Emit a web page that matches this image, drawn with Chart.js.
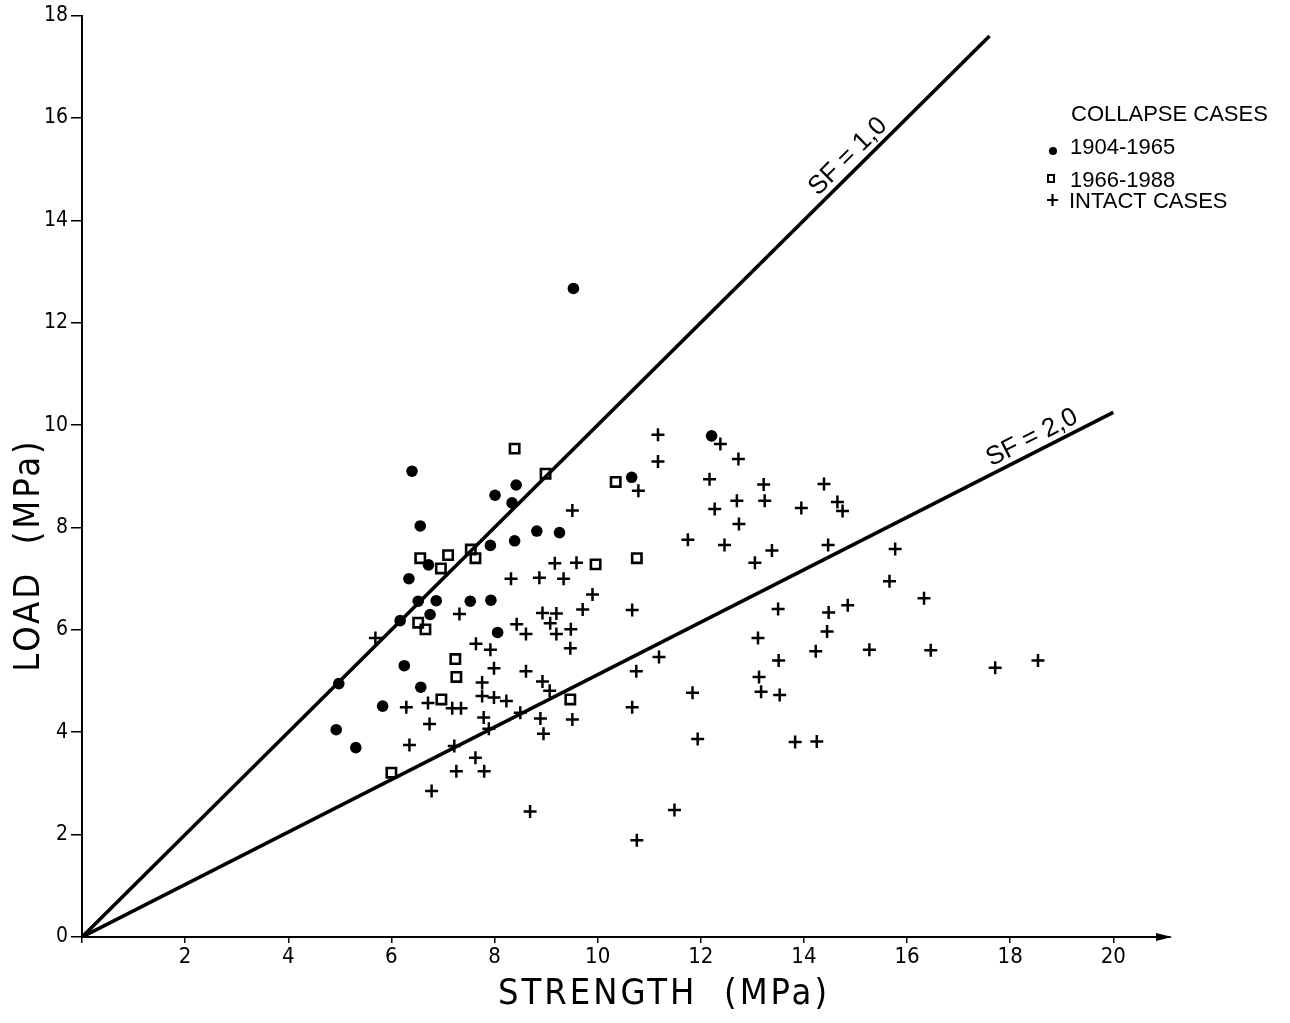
<!DOCTYPE html>
<html>
<head>
<meta charset="utf-8">
<script src="https://cdn.jsdelivr.net/npm/chart.js@4.4.1/dist/chart.umd.min.js"></script>
<style>
  body { margin: 0; background: #fff; }
  #chart { display: block; }
</style>
</head>
<body>
<canvas id="chart" width="1290" height="1023"></canvas>
<script>
// значения: [прочность, нагрузка], МПа
const collapse1904 = [
  [6.40, 9.10], [8.42, 8.83], [8.01, 8.63], [8.34, 8.48], [10.66, 8.98], [6.56, 8.03],
  [8.82, 7.93], [9.26, 7.90], [8.39, 7.74], [7.92, 7.65], [6.72, 7.27], [6.34, 7.00],
  [6.52, 6.56], [6.87, 6.57], [7.53, 6.56], [7.93, 6.58], [6.75, 6.30], [6.17, 6.18],
  [8.06, 5.95], [6.25, 5.30], [9.53, 12.67], [6.57, 4.88], [5.83, 4.51], [4.93, 4.05],
  [5.31, 3.70], [4.98, 4.95], [12.21, 9.79]
];
const collapse1966 = [
  [8.39, 9.54], [8.99, 9.05], [10.35, 8.89], [10.76, 7.40], [6.56, 7.40], [7.10, 7.46],
  [6.96, 7.20], [7.54, 7.57], [7.63, 7.40], [9.96, 7.28], [6.52, 6.14], [6.66, 6.01],
  [7.24, 5.43], [7.26, 5.08], [6.97, 4.64], [9.47, 4.64], [6.00, 3.21]
];
const intact = [
  [9.51, 8.33], [10.79, 8.72], [9.17, 7.30], [9.59, 7.31], [8.32, 7.00], [8.87, 7.02],
  [9.34, 7.00], [9.90, 6.69], [9.71, 6.40], [10.67, 6.39], [7.32, 6.31], [5.69, 5.84],
  [8.93, 6.33], [9.20, 6.32], [8.43, 6.11], [9.08, 6.13], [8.61, 5.92], [9.20, 5.92],
  [9.48, 6.01], [7.64, 5.73], [7.92, 5.61], [9.47, 5.64], [7.99, 5.25], [8.61, 5.19],
  [10.75, 5.19], [8.93, 4.99], [9.07, 4.81], [7.76, 4.97], [7.76, 4.71], [7.99, 4.68],
  [8.23, 4.61], [6.29, 4.49], [6.71, 4.57], [7.18, 4.47], [7.35, 4.47], [7.79, 4.29],
  [8.50, 4.38], [8.89, 4.27], [9.51, 4.25], [10.67, 4.49], [6.74, 4.16], [7.89, 4.07],
  [8.95, 3.97], [6.35, 3.75], [7.22, 3.73], [7.63, 3.50], [7.26, 3.24], [7.80, 3.24],
  [6.78, 2.85], [8.69, 2.45], [10.76, 1.89], [11.17, 9.81], [11.17, 9.29], [12.38, 9.63],
  [12.73, 9.34], [12.17, 8.94], [13.22, 8.84], [14.39, 8.85], [12.70, 8.52], [13.24, 8.52],
  [12.27, 8.36], [13.95, 8.38], [14.65, 8.50], [14.75, 8.32], [12.74, 8.07], [11.75, 7.76],
  [12.46, 7.66], [13.38, 7.55], [13.05, 7.31], [14.47, 7.66], [15.77, 7.58], [15.66, 6.95],
  [13.50, 6.41], [14.48, 6.34], [14.85, 6.48], [14.45, 5.97], [13.11, 5.84], [14.23, 5.58],
  [15.27, 5.61], [13.51, 5.40], [11.19, 5.47], [13.13, 5.08], [13.17, 4.79], [13.53, 4.73],
  [11.84, 4.77], [11.94, 3.87], [13.83, 3.81], [14.25, 3.82], [11.49, 2.48], [16.33, 6.62],
  [16.46, 5.60], [17.71, 5.26], [18.54, 5.40]
];
// линии коэффициента запаса
const sf1Line = [[0, 0], [17.6, 17.6]];
const sf2Line = [[0, 0], [20, 10.25]];

const xTicks = [0, 2, 4, 6, 8, 10, 12, 14, 16, 18, 20];
const yTicks = [0, 2, 4, 6, 8, 10, 12, 14, 16, 18];

const narrowFont = '"Liberation Sans Narrow", "DejaVu Sans Condensed", "Liberation Sans", sans-serif';
const plainFont = '"Liberation Sans", Arial, sans-serif';

const toXY = arr => arr.map(p => ({ x: p[0], y: p[1] }));

// подписи, легенда, стрелка оси
const annotations = {
  id: 'annotations',
  afterDraw(chart) {
    const ctx = chart.ctx;
    const xs = chart.scales.x, ys = chart.scales.y;
    ctx.save();
    ctx.fillStyle = '#000';
    ctx.strokeStyle = '#000';

    // стрелка на конце оси X
    const ax = xs.right, ay = ys.bottom;
    ctx.beginPath();
    ctx.moveTo(ax + 2, ay);
    ctx.lineTo(ax - 14, ay - 4);
    ctx.lineTo(ax - 14, ay + 4);
    ctx.closePath();
    ctx.fill();

    // названия осей
    ctx.font = '36px ' + narrowFont;
    ctx.letterSpacing = '3px';
    ctx.textAlign = 'center';
    ctx.textBaseline = 'middle';
    ctx.fillText('STRENGTH  (MPa)', 664, 995);
    ctx.save();
    ctx.translate(30, 555);
    ctx.rotate(-Math.PI / 2);
    ctx.fillText('LOAD  (MPa)', 0, 0);
    ctx.restore();
    ctx.letterSpacing = '0px';

    // подписи линий SF
    const lineLabel = (text, line, at, above) => {
      const x0 = xs.getPixelForValue(line[0][0]), y0 = ys.getPixelForValue(line[0][1]);
      const x1 = xs.getPixelForValue(line[1][0]), y1 = ys.getPixelForValue(line[1][1]);
      const ang = Math.atan2(y1 - y0, x1 - x0);
      const px = x0 + (x1 - x0) * at, py = y0 + (y1 - y0) * at;
      ctx.save();
      ctx.translate(px, py);
      ctx.rotate(ang);
      ctx.font = '26px ' + plainFont;
      ctx.textAlign = 'center';
      ctx.textBaseline = 'alphabetic';
      ctx.fillText(text, 0, -above);
      ctx.restore();
    };
    lineLabel('SF = 1,0', sf1Line, 15.05 / 17.6, 7);
    lineLabel('SF = 2,0', sf2Line, 18.55 / 20, 7);

    // легенда
    ctx.font = '22px ' + plainFont;
    ctx.textAlign = 'left';
    ctx.textBaseline = 'middle';
    ctx.fillText('COLLAPSE CASES', 1071, 115);
    ctx.fillText('1904-1965', 1070, 148);
    ctx.fillText('1966-1988', 1070, 181);
    ctx.fillText('INTACT CASES', 1069, 202);

    ctx.beginPath();
    ctx.arc(1053, 151, 4, 0, Math.PI * 2);
    ctx.fill();
    ctx.lineWidth = 2;
    ctx.strokeRect(1048, 175, 6, 7);
    ctx.lineWidth = 2.2;
    ctx.beginPath();
    ctx.moveTo(1047, 200); ctx.lineTo(1058, 200);
    ctx.moveTo(1052.5, 194); ctx.lineTo(1052.5, 206);
    ctx.stroke();

    ctx.restore();
  }
};

const ctx = document.getElementById('chart').getContext('2d');
new Chart(ctx, {
  type: 'scatter',
  data: {
    datasets: [
      {
        label: 'SF = 1,0',
        data: toXY(sf1Line),
        showLine: true,
        borderColor: '#000',
        borderWidth: 3.6,
        pointRadius: 0
      },
      {
        label: 'SF = 2,0',
        data: toXY(sf2Line),
        showLine: true,
        borderColor: '#000',
        borderWidth: 3.6,
        pointRadius: 0
      },
      {
        label: '1904-1965',
        data: toXY(collapse1904),
        pointStyle: 'circle',
        pointRadius: 5.8,
        backgroundColor: '#000',
        borderColor: '#000',
        borderWidth: 0
      },
      {
        label: '1966-1988',
        data: toXY(collapse1966),
        pointStyle: 'rect',
        pointRadius: 6.6,
        backgroundColor: 'rgba(255,255,255,0)',
        borderColor: '#000',
        borderWidth: 2.6
      },
      {
        label: 'INTACT CASES',
        data: toXY(intact),
        pointStyle: 'cross',
        pointRadius: 6.5,
        borderColor: '#000',
        borderWidth: 2.5
      }
    ]
  },
  options: {
    responsive: false,
    animation: false,
    layout: { padding: { top: 12, right: 120, left: 0, bottom: 0 } },
    plugins: {
      legend: { display: false },
      tooltip: { enabled: false }
    },
    scales: {
      x: {
        type: 'linear',
        min: 0,
        max: 21.1,
        afterBuildTicks: s => { s.ticks = xTicks.map(v => ({ value: v })); },
        afterFit: s => { s.height = 86; },
        border: { display: true, color: '#000', width: 2 },
        grid: { display: true, drawOnChartArea: false, drawTicks: true, tickLength: 6, color: '#000', lineWidth: 1.5 },
        ticks: {
          color: '#000',
          padding: 1,
          maxRotation: 0,
          font: { family: narrowFont, size: 22 },
          callback: v => (v === 0 ? '' : v)
        }
      },
      y: {
        type: 'linear',
        min: 0,
        max: 18,
        afterBuildTicks: s => { s.ticks = yTicks.map(v => ({ value: v })); },
        afterFit: s => { s.width = 82; },
        border: { display: true, color: '#000', width: 2 },
        grid: { display: true, drawOnChartArea: false, drawTicks: true, tickLength: 11, color: '#000', lineWidth: 1.5 },
        ticks: {
          color: '#000',
          padding: 3,
          font: { family: narrowFont, size: 21 }
        }
      }
    }
  },
  plugins: [annotations]
});
</script>
</body>
</html>
